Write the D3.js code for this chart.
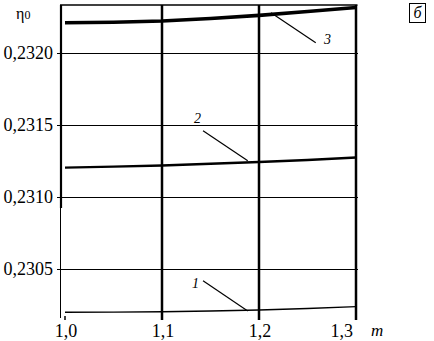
<!DOCTYPE html>
<html><head><meta charset="utf-8">
<script src="https://cdn.jsdelivr.net/npm/d3@7"></script>
<style>
html,body{margin:0;padding:0;background:#fff;}
svg{display:block;}
</style></head>
<body>
<script>
const mValues = [1.00, 1.05, 1.10, 1.15, 1.20, 1.25, 1.30];
const curve1 = [0.230202, 0.230203, 0.230206, 0.230211, 0.230218, 0.230228, 0.230241];
const curve2 = [0.231205, 0.231212, 0.231220, 0.231232, 0.231244, 0.231258, 0.231275];
const curve3 = [0.232210, 0.232213, 0.232222, 0.232239, 0.232261, 0.232288, 0.232316];
const xTicks = [1.0, 1.1, 1.2, 1.3];
const xTickLabels = ["1,0", "1,1", "1,2", "1,3"];
const yTicks = [0.2305, 0.2310, 0.2315, 0.2320];
const yTickLabels = ["0,2305", "0,2310", "0,2315", "0,2320"];
const curveLabels = ["1", "2", "3"];
// leader lines: [x1, y1, x2, y2] in data units
const leaders = [
  [1.1423, 0.230421, 1.1884, 0.230211],
  [1.1423, 0.231461, 1.1884, 0.231253],
  [1.2124, 0.232279, 1.2585, 0.232071]
];

const FONT = "Liberation Serif";
const W = 434, H = 341;
const svg = d3.select("body").append("svg").attr("width", W).attr("height", H);

const x = d3.scaleLinear().domain([1.0, 1.3]).range([65, 356]);
const y = d3.scaleLinear().domain([0.2305, 0.2320]).range([269.3, 53]);
const plotTop = 5, plotBottom = 320, axisX = 61;

// horizontal grid lines (with small tick protruding left)
svg.append("g").selectAll("line").data(yTicks).join("line")
  .attr("x1", 57).attr("x2", 358)
  .attr("y1", d => Math.round(y(d)) + 0.5).attr("y2", d => Math.round(y(d)) + 0.5)
  .attr("stroke", "#000").attr("stroke-width", 1);

// top border
svg.append("line").attr("x1", axisX - 1).attr("x2", 357.5)
  .attr("y1", plotTop).attr("y2", plotTop).attr("stroke", "#000").attr("stroke-width", 1.5);

// left axis: thick upper part, thin lower part
svg.append("line").attr("x1", axisX).attr("x2", axisX).attr("y1", plotTop).attr("y2", 208)
  .attr("stroke", "#000").attr("stroke-width", 2.2);
svg.append("line").attr("x1", axisX - 0.5).attr("x2", axisX - 0.5).attr("y1", 208).attr("y2", 318)
  .attr("stroke", "#000").attr("stroke-width", 1);

// vertical grid lines (1.1, 1.2, 1.3)
svg.append("g").selectAll("line").data(xTicks.slice(1)).join("line")
  .attr("x1", d => x(d)).attr("x2", d => x(d))
  .attr("y1", plotTop).attr("y2", plotBottom)
  .attr("stroke", "#000").attr("stroke-width", 2.5);
// small tick at 1.0
svg.append("line").attr("x1", x(1.0)).attr("x2", x(1.0))
  .attr("y1", 316).attr("y2", plotBottom).attr("stroke", "#000").attr("stroke-width", 1.5);

// curves
const line = d3.line().x((d, i) => x(mValues[i])).y(d => y(d));
const curves = [curve1, curve2, curve3];
const widths = [1.4, 2.4, 3.6];
curves.forEach((c, k) => {
  svg.append("path").datum(c).attr("d", line)
    .attr("fill", "none").attr("stroke", "#000").attr("stroke-width", widths[k]);
});

// leader lines
svg.append("g").selectAll("line").data(leaders).join("line")
  .attr("x1", d => x(d[0])).attr("y1", d => y(d[1]))
  .attr("x2", d => x(d[2])).attr("y2", d => y(d[3]))
  .attr("stroke", "#000").attr("stroke-width", 1.2);

// curve labels
const labelPos = [[192, 288], [194, 123], [324, 44]];
svg.append("g").selectAll("text").data(curveLabels).join("text")
  .attr("x", (d, i) => labelPos[i][0]).attr("y", (d, i) => labelPos[i][1])
  .style("font-family", FONT).style("font-size", "14px").style("font-style", "italic")
  .text(d => d);

// y tick labels
svg.append("g").selectAll("text").data(yTicks).join("text")
  .attr("x", 53).attr("y", d => y(d) + 5.5)
  .attr("text-anchor", "end")
  .style("font-family", FONT).style("font-size", "18px")
  .text((d, i) => yTickLabels[i]);

// x tick labels
svg.append("g").selectAll("text").data(xTicks).join("text")
  .attr("x", (d, i) => i === xTicks.length - 1 ? x(d) - 3 : x(d) + 1)
  .attr("y", 337)
  .attr("text-anchor", (d, i) => i === xTicks.length - 1 ? "end" : "middle")
  .style("font-family", FONT).style("font-size", "18px")
  .text((d, i) => xTickLabels[i]);

// axis titles
svg.append("text").attr("x", 371).attr("y", 336)
  .style("font-family", FONT).style("font-size", "17px").style("font-style", "italic")
  .text("m");
const eta = svg.append("text").attr("x", 16).attr("y", 19)
  .style("font-family", FONT).style("font-size", "16px");
eta.append("tspan").text("η");
eta.append("tspan").style("font-size", "12px").text("0");

// boxed panel letter
svg.append("rect").attr("x", 409.5).attr("y", 3.5).attr("width", 16).attr("height", 19)
  .attr("fill", "none").attr("stroke", "#000").attr("stroke-width", 1);
svg.append("text").attr("x", 417.5).attr("y", 18).attr("text-anchor", "middle")
  .style("font-family", FONT).style("font-size", "16px").style("font-style", "italic")
  .text("б");
</script>
</body></html>
